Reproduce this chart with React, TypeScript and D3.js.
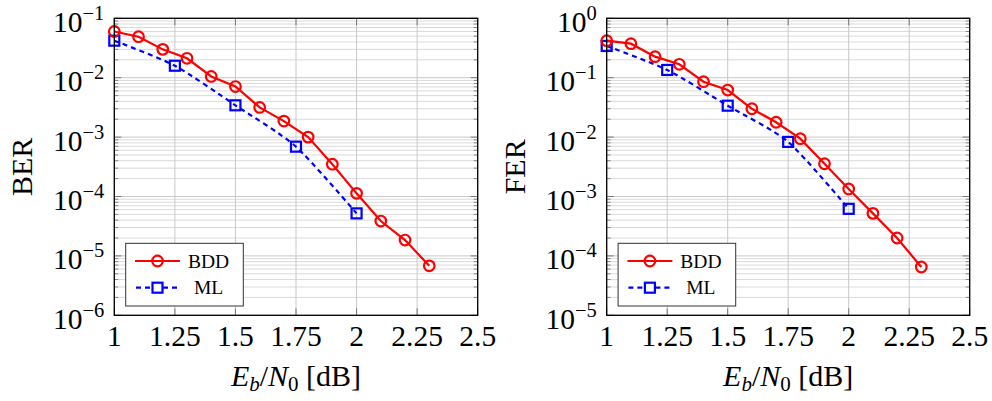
import React from "react";
import * as d3 from "d3";

const bddSnr = [1, 1.1, 1.2, 1.3, 1.4, 1.5, 1.6, 1.7, 1.8, 1.9, 2.0, 2.1, 2.2, 2.3];
const bddBer = [0.06, 0.049, 0.030, 0.0212, 0.0105, 0.0071, 0.00316, 0.00186, 0.00100, 3.5e-4, 1.13e-4, 3.86e-5, 1.85e-5, 6.8e-6];
const bddFer = [0.42, 0.374, 0.226, 0.168, 0.0857, 0.062, 0.030, 0.0178, 0.0094, 3.56e-3, 1.34e-3, 5.2e-4, 2.0e-4, 6.5e-5];

const mlSnr = [1, 1.25, 1.5, 1.75, 2.0];
const mlBer = [0.042, 0.0159, 3.43e-3, 6.9e-4, 5.2e-5];
const mlFer = [0.342, 0.135, 0.0338, 8.3e-3, 6.2e-4];

const xTicks = [1, 1.25, 1.5, 1.75, 2, 2.25, 2.5];
const xTickLabels = ["1", "1.25", "1.5", "1.75", "2", "2.25", "2.5"];
const berExps = [-1, -2, -3, -4, -5, -6];
const ferExps = [0, -1, -2, -3, -4, -5];
const seriesNames = ["BDD", "ML"];

const FONT = "'Liberation Serif', 'DejaVu Serif', serif";
const TOP = 18.3;
const BOTTOM = 315.3;

type PanelProps = {
  left: number;
  right: number;
  ylabel: string;
  exps: number[];
  bdd: number[];
  ml: number[];
};

function Panel({ left, right, ylabel, exps, bdd, ml }: PanelProps) {
  const x = d3.scaleLinear().domain([1, 2.5]).range([left, right]);
  const yMax = Math.pow(10, exps[0]);
  const yMin = Math.pow(10, exps[exps.length - 1]);
  const y = d3.scaleLog().domain([yMin, yMax]).range([BOTTOM, TOP]);

  const minor: number[] = [];
  for (let e = exps[exps.length - 1]; e < exps[0]; e++) {
    for (let m = 2; m <= 9; m++) minor.push(m * Math.pow(10, e));
  }

  const bddPts: [number, number][] = bddSnr.map((s, i) => [x(s), y(bdd[i])]);
  const mlPts: [number, number][] = mlSnr.map((s, i) => [x(s), y(ml[i])]);
  const straight = d3.line().curve(d3.curveLinear);
  const smooth = d3.line().curve(d3.curveCardinal.tension(0.3));

  const lgX = left + 11.4;
  const lgY = BOTTOM - 9.3 - 62.7;
  const lgW = 117.6;
  const lgH = 62.7;
  const row1 = lgY + 17.7;
  const row2 = lgY + 44.4;
  const sx0 = lgX + 9.3;
  const sx1 = lgX + 54.3;
  const smid = (sx0 + sx1) / 2;
  const textX = lgX + 82.8;

  return (
    <g>
      {/* grid */}
      {minor.map((v, i) => (
        <line key={"mn" + i} x1={left} x2={right} y1={y(v)} y2={y(v)} stroke="#dadada" strokeWidth={1} />
      ))}
      {exps.map((e) => (
        <line key={"mj" + e} x1={left} x2={right} y1={y(Math.pow(10, e))} y2={y(Math.pow(10, e))} stroke="#c8c8c8" strokeWidth={1} />
      ))}
      {xTicks.map((t) => (
        <line key={"gx" + t} x1={x(t)} x2={x(t)} y1={TOP} y2={BOTTOM} stroke="#c8c8c8" strokeWidth={1} />
      ))}
      {/* tick marks */}
      {minor.map((v, i) => (
        <g key={"mt" + i}>
          <line x1={left} x2={left + 4} y1={y(v)} y2={y(v)} stroke="#888" strokeWidth={1} />
          <line x1={right - 4} x2={right} y1={y(v)} y2={y(v)} stroke="#888" strokeWidth={1} />
        </g>
      ))}
      {exps.map((e) => (
        <g key={"jt" + e}>
          <line x1={left} x2={left + 7} y1={y(Math.pow(10, e))} y2={y(Math.pow(10, e))} stroke="#777" strokeWidth={1} />
          <line x1={right - 7} x2={right} y1={y(Math.pow(10, e))} y2={y(Math.pow(10, e))} stroke="#777" strokeWidth={1} />
        </g>
      ))}
      {xTicks.map((t) => (
        <g key={"xt" + t}>
          <line x1={x(t)} x2={x(t)} y1={BOTTOM} y2={BOTTOM - 7} stroke="#777" strokeWidth={1} />
          <line x1={x(t)} x2={x(t)} y1={TOP} y2={TOP + 7} stroke="#777" strokeWidth={1} />
        </g>
      ))}
      {/* ML */}
      <path d={smooth(mlPts) || ""} fill="none" stroke="#0000ff" strokeWidth={2.2} strokeDasharray="5,4" />
      {mlPts.map((p, i) => (
        <rect key={"ms" + i} x={p[0] - 5} y={p[1] - 5} width={10} height={10} fill="none" stroke="#0000ff" strokeWidth={2.2} />
      ))}
      {/* BDD */}
      <path d={straight(bddPts) || ""} fill="none" stroke="#ff0000" strokeWidth={2.2} />
      {bddPts.map((p, i) => (
        <circle key={"bc" + i} cx={p[0]} cy={p[1]} r={5.3} fill="none" stroke="#ff0000" strokeWidth={2.2} />
      ))}
      {/* frame */}
      <rect x={left} y={TOP} width={right - left} height={BOTTOM - TOP} fill="none" stroke="#000" strokeWidth={1.3} />
      {/* legend */}
      <rect x={lgX} y={lgY} width={lgW} height={lgH} fill="#fff" stroke="#333" strokeWidth={1} />
      <line x1={sx0} x2={sx1} y1={row1} y2={row1} stroke="#ff0000" strokeWidth={2.2} />
      <circle cx={smid} cy={row1} r={5.3} fill="none" stroke="#ff0000" strokeWidth={2.2} />
      <line x1={sx0} x2={sx1} y1={row2} y2={row2} stroke="#0000ff" strokeWidth={2.2} strokeDasharray="5,4" strokeDashoffset={-1} />
      <rect x={smid - 5} y={row2 - 5} width={10} height={10} fill="#fff" stroke="#0000ff" strokeWidth={2.2} />
      <text x={textX} y={row1 + 6.5} textAnchor="middle" fontFamily={FONT} fontSize={19.5}>{seriesNames[0]}</text>
      <text x={textX} y={row2 + 6.5} textAnchor="middle" fontFamily={FONT} fontSize={19.5}>{seriesNames[1]}</text>
      {/* y tick labels */}
      {exps.map((e) => (
        <text key={"yl" + e} x={left - 10} y={y(Math.pow(10, e)) + 13.5} textAnchor="end" fontFamily={FONT} fontSize={29.5}>
          10
          <tspan dy={-12} fontSize={20.5}>{e < 0 ? "\u2212" + Math.abs(e) : String(e)}</tspan>
        </text>
      ))}
      {/* x tick labels */}
      {xTicks.map((t, i) => (
        <text key={"xl" + t} x={x(t)} y={345.5} textAnchor="middle" fontFamily={FONT} fontSize={29.5}>
          {xTickLabels[i]}
        </text>
      ))}
      {/* axis labels */}
      <text
        x={0}
        y={0}
        transform={`translate(${left - 82},${(TOP + BOTTOM) / 2}) rotate(-90)`}
        textAnchor="middle"
        fontFamily={FONT}
        fontSize={30}
      >
        {ylabel}
      </text>
      <text x={(left + right) / 2} y={386} textAnchor="middle" fontFamily={FONT} fontSize={30}>
        <tspan fontStyle="italic">E</tspan>
        <tspan fontStyle="italic" fontSize={21} dy={5}>b</tspan>
        <tspan dy={-5}>/</tspan>
        <tspan fontStyle="italic">N</tspan>
        <tspan fontSize={21} dy={5}>0</tspan>
        <tspan dy={-5}> [dB]</tspan>
      </text>
    </g>
  );
}

export default function App() {
  return (
    <svg width={992} height={401} style={{ position: "absolute", left: 0, top: 0, background: "#fff" }}>
      <rect x={0} y={0} width={992} height={401} fill="#fff" />
      <Panel left={114.3} right={477.7} ylabel="BER" exps={berExps} bdd={bddBer} ml={mlBer} />
      <Panel left={606.7} right={969.7} ylabel="FER" exps={ferExps} bdd={bddFer} ml={mlFer} />
    </svg>
  );
}
